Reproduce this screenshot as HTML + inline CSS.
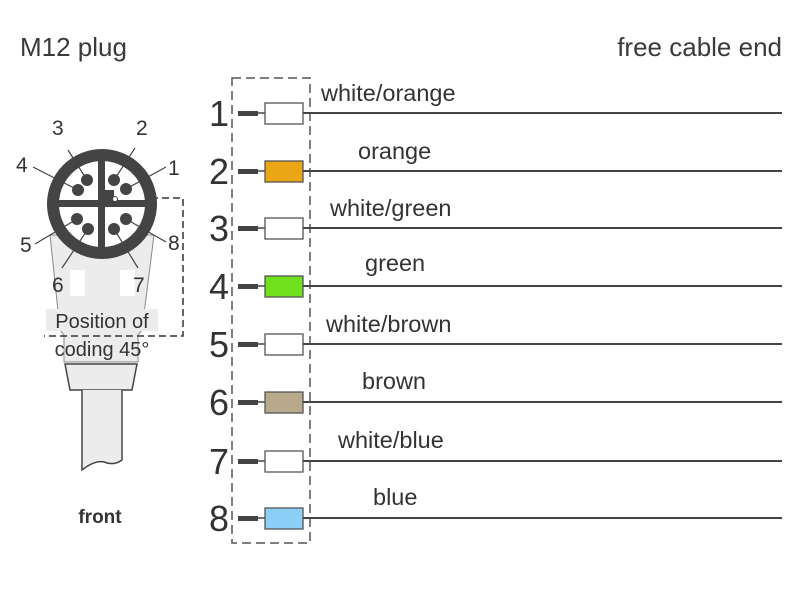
<!DOCTYPE html>
<html><head><style>
html,body{margin:0;padding:0;background:#fff;}
svg{display:block;font-family:"Liberation Sans",Arial,sans-serif;}
</style></head><body>
<svg width="800" height="600" viewBox="0 0 800 600" xmlns="http://www.w3.org/2000/svg">
<rect width="800" height="600" fill="#fff"/>
<text x="20" y="56" font-size="26" fill="#3a3a3a">M12 plug</text>
<text x="782" y="56" font-size="26" fill="#3a3a3a" text-anchor="end">free cable end</text>

<path d="M50 235 L60 330 L64 335 L64 362 L138 362 L138 335 L142 330 L154 235 Z" fill="#ececec" stroke="#888" stroke-width="1"/>
<rect x="70" y="270" width="15" height="26" fill="#fff"/>
<rect x="120" y="270" width="15" height="26" fill="#fff"/>
<path d="M65 364 L137 364 L132 390 L70 390 Z" fill="#ececec" stroke="#444" stroke-width="1.5"/>
<path d="M82 390 L82 470 Q95 460 104 462 Q114 466 122 460 L122 390" fill="#ececec" stroke="#444" stroke-width="1.5"/>

<path d="M118 198 L183 198 L183 336 L44 336" fill="none" stroke="#333" stroke-width="1.5" stroke-dasharray="7,4"/>

<circle cx="102" cy="204" r="49" fill="#fff" stroke="#444" stroke-width="12"/>
<rect x="54" y="200" width="96" height="7" fill="#444"/>
<rect x="98" y="156" width="7" height="96" fill="#444"/>
<rect x="104" y="190" width="10" height="12" fill="#444"/>
<circle cx="115" cy="199" r="2.5" fill="#fff" stroke="#444" stroke-width="1"/>
<g fill="#444">
<circle cx="87" cy="180" r="6"/><circle cx="78" cy="190" r="6"/>
<circle cx="114" cy="180" r="6"/><circle cx="126" cy="189" r="6"/>
<circle cx="77" cy="219" r="6"/><circle cx="88" cy="229" r="6"/>
<circle cx="114" cy="229" r="6"/><circle cx="126" cy="219" r="6"/>
</g>
<g stroke="#444" stroke-width="1.2">
<line x1="68" y1="150" x2="87" y2="180"/><line x1="33" y1="167" x2="78" y2="190"/>
<line x1="135" y1="148" x2="114" y2="180"/><line x1="166" y1="167" x2="126" y2="189"/>
<line x1="35" y1="244" x2="77" y2="219"/><line x1="62" y1="268" x2="88" y2="229"/>
<line x1="138" y1="268" x2="114" y2="229"/><line x1="166" y1="242" x2="126" y2="219"/>
</g>
<g font-size="21" fill="#333">
<text x="52" y="135">3</text><text x="136" y="135">2</text>
<text x="16" y="172">4</text><text x="168" y="175">1</text>
<text x="20" y="252">5</text><text x="168" y="250">8</text>
<text x="52" y="292">6</text><text x="133" y="292">7</text>
</g>
<rect x="46" y="309" width="112" height="22" fill="#ececec"/>
<text x="102" y="328" font-size="20" fill="#333" text-anchor="middle">Position of</text>
<text x="102" y="356" font-size="20" fill="#333" text-anchor="middle">coding 45°</text>
<text x="100" y="523" font-size="19" font-weight="bold" fill="#333" text-anchor="middle">front</text>

<rect x="232" y="78" width="78" height="465" fill="none" stroke="#555" stroke-width="1.5" stroke-dasharray="9,5"/>

<g font-size="36" fill="#333" text-anchor="end">
<text x="229" y="126">1</text><text x="229" y="184">2</text><text x="229" y="241">3</text><text x="229" y="299">4</text>
<text x="229" y="357">5</text><text x="229" y="415">6</text><text x="229" y="474">7</text><text x="229" y="531">8</text>
</g>

<g>
<g transform="translate(0,113)"><rect x="238" y="-2" width="20" height="5" fill="#444"/><line x1="258" y1="0" x2="265" y2="0" stroke="#444" stroke-width="1.5"/><rect x="265" y="-10" width="38" height="21" fill="#fff" stroke="#555" stroke-width="1.3"/><line x1="303" y1="0" x2="782" y2="0" stroke="#444" stroke-width="2"/></g>
<g transform="translate(0,171)"><rect x="238" y="-2" width="20" height="5" fill="#444"/><line x1="258" y1="0" x2="265" y2="0" stroke="#444" stroke-width="1.5"/><rect x="265" y="-10" width="38" height="21" fill="#eba616" stroke="#555" stroke-width="1.3"/><line x1="303" y1="0" x2="782" y2="0" stroke="#444" stroke-width="2"/></g>
<g transform="translate(0,228)"><rect x="238" y="-2" width="20" height="5" fill="#444"/><line x1="258" y1="0" x2="265" y2="0" stroke="#444" stroke-width="1.5"/><rect x="265" y="-10" width="38" height="21" fill="#fff" stroke="#555" stroke-width="1.3"/><line x1="303" y1="0" x2="782" y2="0" stroke="#444" stroke-width="2"/></g>
<g transform="translate(0,286)"><rect x="238" y="-2" width="20" height="5" fill="#444"/><line x1="258" y1="0" x2="265" y2="0" stroke="#444" stroke-width="1.5"/><rect x="265" y="-10" width="38" height="21" fill="#6fe01e" stroke="#555" stroke-width="1.3"/><line x1="303" y1="0" x2="782" y2="0" stroke="#444" stroke-width="2"/></g>
<g transform="translate(0,344)"><rect x="238" y="-2" width="20" height="5" fill="#444"/><line x1="258" y1="0" x2="265" y2="0" stroke="#444" stroke-width="1.5"/><rect x="265" y="-10" width="38" height="21" fill="#fff" stroke="#555" stroke-width="1.3"/><line x1="303" y1="0" x2="782" y2="0" stroke="#444" stroke-width="2"/></g>
<g transform="translate(0,402)"><rect x="238" y="-2" width="20" height="5" fill="#444"/><line x1="258" y1="0" x2="265" y2="0" stroke="#444" stroke-width="1.5"/><rect x="265" y="-10" width="38" height="21" fill="#b8a88c" stroke="#555" stroke-width="1.3"/><line x1="303" y1="0" x2="782" y2="0" stroke="#444" stroke-width="2"/></g>
<g transform="translate(0,461)"><rect x="238" y="-2" width="20" height="5" fill="#444"/><line x1="258" y1="0" x2="265" y2="0" stroke="#444" stroke-width="1.5"/><rect x="265" y="-10" width="38" height="21" fill="#fff" stroke="#555" stroke-width="1.3"/><line x1="303" y1="0" x2="782" y2="0" stroke="#444" stroke-width="2"/></g>
<g transform="translate(0,518)"><rect x="238" y="-2" width="20" height="5" fill="#444"/><line x1="258" y1="0" x2="265" y2="0" stroke="#444" stroke-width="1.5"/><rect x="265" y="-10" width="38" height="21" fill="#8ccff7" stroke="#555" stroke-width="1.3"/><line x1="303" y1="0" x2="782" y2="0" stroke="#444" stroke-width="2"/></g>
</g>

<g font-size="23.5" fill="#333">
<text x="321" y="101">white/orange</text>
<text x="358" y="159">orange</text>
<text x="330" y="216">white/green</text>
<text x="365" y="271">green</text>
<text x="326" y="332">white/brown</text>
<text x="362" y="389">brown</text>
<text x="338" y="448">white/blue</text>
<text x="373" y="505">blue</text>
</g>
</svg>
</body></html>
